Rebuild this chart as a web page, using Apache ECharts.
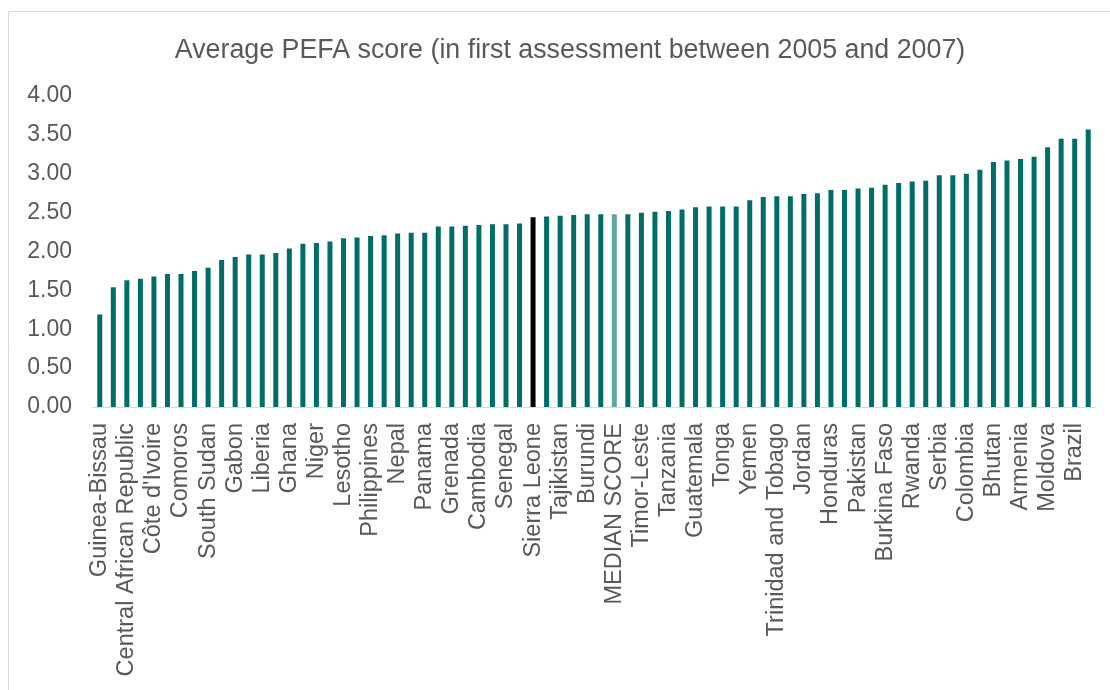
<!DOCTYPE html>
<html>
<head>
<meta charset="utf-8">
<title>Average PEFA score</title>
<script src="https://cdn.jsdelivr.net/npm/echarts@6/dist/echarts.min.js"></script>
<style>
  html, body { margin: 0; padding: 0; background: #fff; }
  #chart { width: 1110px; height: 690px; }
</style>
</head>
<body>
<div id="chart"></div>
<script>
// labelled countries (every second bar carries a label in the source chart)
var labelledCountries = [
  'Guinea-Bissau', 'Central African Republic', "Côte d'Ivoire", 'Comoros', 'South Sudan',
  'Gabon', 'Liberia', 'Ghana', 'Niger', 'Lesotho', 'Philippines', 'Nepal', 'Panama',
  'Grenada', 'Cambodia', 'Senegal', 'Sierra Leone', 'Tajikistan', 'Burundi',
  'MEDIAN SCORE', 'Timor-Leste', 'Tanzania', 'Guatemala', 'Tonga', 'Yemen',
  'Trinidad and Tobago', 'Jordan', 'Honduras', 'Pakistan', 'Burkina Faso', 'Rwanda',
  'Serbia', 'Colombia', 'Bhutan', 'Armenia', 'Moldova', 'Brazil'
]

// scores, one per bar, in chart order
var scores = [
  1.19, 1.54, 1.63, 1.65, 1.68, 1.71, 1.71, 1.75, 1.79, 1.89,
  1.93, 1.96, 1.96, 1.98, 2.04, 2.10, 2.11, 2.13, 2.17, 2.18,
  2.20, 2.21, 2.23, 2.24, 2.24, 2.32, 2.32, 2.33, 2.34, 2.35,
  2.35, 2.36, 2.44, 2.45, 2.46, 2.47, 2.48, 2.48, 2.48, 2.48,
  2.50, 2.51, 2.52, 2.54, 2.57, 2.58, 2.58, 2.58, 2.66, 2.70,
  2.71, 2.71, 2.74, 2.75, 2.79, 2.79, 2.81, 2.82, 2.86, 2.88,
  2.90, 2.91, 2.98, 2.98, 3.00, 3.05, 3.15, 3.17, 3.19, 3.22,
  3.34, 3.45, 3.45, 3.57
]

var yTicks = [0, 0.5, 1, 1.5, 2, 2.5, 3, 3.5, 4]

var highlightBar = 'Sierra Leone'
var medianBar = 'MEDIAN SCORE'

// build category list: labelled name on even bars, blank on odd bars
var categories = scores.map(function (v, i) {
  return i % 2 === 0 ? (labelledCountries[i / 2] || '') : ''
})

var chart = echarts.init(document.getElementById('chart'))

var seriesData = scores.map(function (v, i) {
  var color = '#006D66'
  if (categories[i] === highlightBar) color = '#000000'
  if (categories[i] === medianBar) color = '#5FA7A1'
  return { value: v, itemStyle: { color: color } }
})

chart.setOption({
  animation: false,
  textStyle: { fontFamily: 'Liberation Sans, Arial, sans-serif' },
  title: {
    text: 'Average PEFA score (in first assessment between 2005 and 2007)',
    left: 565,
    top: 32,
    textAlign: 'center',
    textStyle: {
      color: '#595959',
      fontSize: 26.8,
      fontWeight: 'normal'
    }
  },
  graphic: [
    {
      type: 'polyline',
      shape: { points: [[8.5, 690], [8.5, 11.5], [1110, 11.5]] },
      style: { stroke: '#d9d9d9', lineWidth: 1, fill: null }
    }
  ],
  grid: {
    left: 93,
    right: 15,
    top: 96,
    bottom: 283,
    containLabel: false
  },
  xAxis: {
    type: 'category',
    data: categories,
    axisTick: { show: false },
    axisLine: { lineStyle: { color: '#d9d9d9', width: 1 } },
    axisLabel: {
      interval: 0,
      rotate: 90,
      color: '#595959',
      fontSize: 23.5,
      margin: 16
    }
  },
  yAxis: {
    type: 'value',
    min: yTicks[0],
    max: yTicks[yTicks.length - 1],
    interval: 0.5,
    splitLine: { show: false },
    axisLine: { show: false },
    axisTick: { show: false },
    axisLabel: {
      color: '#595959',
      fontSize: 23,
      margin: 21,
      formatter: function (v) { return v.toFixed(2) }
    }
  },
  series: [{
    type: 'bar',
    data: seriesData,
    barWidth: 5
  }]
})
</script>
</body>
</html>
